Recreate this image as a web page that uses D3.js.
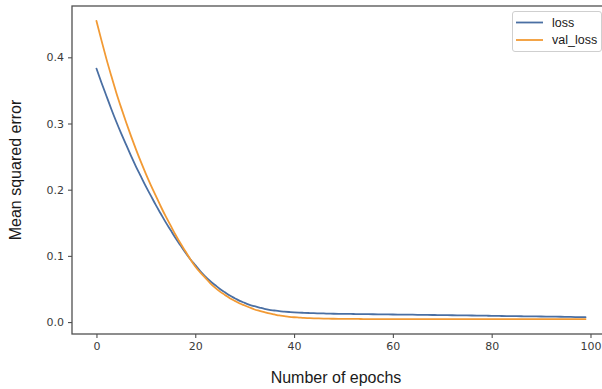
<!DOCTYPE html>
<html>
<head>
<meta charset="utf-8">
<script src="https://cdn.jsdelivr.net/npm/d3@7"></script>
<style>
  html, body { margin: 0; padding: 0; background: #ffffff; }
  svg { display: block; }
  text { font-family: "DejaVu Sans", sans-serif; }
</style>
</head>
<body>
<script>
// Training history: mean squared error per epoch
const epochs = d3.range(0, 100);

const loss = [
  0.383, 0.362, 0.342, 0.322, 0.303, 0.285, 0.268, 0.251, 0.235, 0.220,
  0.205, 0.191, 0.177, 0.164, 0.151, 0.139, 0.127, 0.116, 0.105, 0.095,
  0.086, 0.077, 0.069, 0.062, 0.056, 0.050, 0.045, 0.040, 0.036, 0.032,
  0.029, 0.026, 0.024, 0.022, 0.020, 0.0185, 0.0175, 0.0165, 0.0158, 0.0152,
  0.0147, 0.0143, 0.0140, 0.0137, 0.0134, 0.0132, 0.0130, 0.0128, 0.0126, 0.0125,
  0.0124, 0.0123, 0.0122, 0.0121, 0.0120, 0.0119, 0.0118, 0.0117, 0.0116, 0.0115,
  0.0114, 0.0113, 0.0112, 0.0112, 0.0111, 0.0110, 0.0109, 0.0108, 0.0107, 0.0106,
  0.0105, 0.0104, 0.0103, 0.0102, 0.0101, 0.0100, 0.0099, 0.0098, 0.0097, 0.0096,
  0.0095, 0.0093, 0.0092, 0.0091, 0.0090, 0.0089, 0.0088, 0.0087, 0.0086, 0.0085,
  0.0084, 0.0083, 0.0082, 0.0081, 0.0080, 0.0078, 0.0077, 0.0076, 0.0075, 0.0074
];

const valLoss = [
  0.455, 0.426, 0.398, 0.372, 0.347, 0.324, 0.302, 0.281, 0.261, 0.242,
  0.224, 0.207, 0.191, 0.175, 0.160, 0.146, 0.132, 0.119, 0.107, 0.095,
  0.084, 0.075, 0.067, 0.059, 0.052, 0.046, 0.041, 0.036, 0.032, 0.028,
  0.025, 0.022, 0.019, 0.017, 0.015, 0.013, 0.0115, 0.0100, 0.0090, 0.0080,
  0.0073, 0.0068, 0.0063, 0.0060, 0.0057, 0.0055, 0.0053, 0.0051, 0.0050, 0.0049,
  0.0048, 0.0048, 0.0047, 0.0047, 0.0046, 0.0046, 0.0046, 0.0045, 0.0045, 0.0045,
  0.0045, 0.0045, 0.0045, 0.0045, 0.0045, 0.0045, 0.0045, 0.0045, 0.0045, 0.0045,
  0.0045, 0.0045, 0.0045, 0.0045, 0.0045, 0.0045, 0.0045, 0.0045, 0.0045, 0.0045,
  0.0045, 0.0045, 0.0045, 0.0045, 0.0045, 0.0045, 0.0045, 0.0045, 0.0045, 0.0045,
  0.0045, 0.0045, 0.0045, 0.0045, 0.0045, 0.0045, 0.0045, 0.0045, 0.0045, 0.0045
];

const seriesNames = ["loss", "val_loss"];
const seriesColors = ["#4a6fa3", "#f29a34"];
const xTicks = [0, 20, 40, 60, 80, 100];
const yTicks = [0.0, 0.1, 0.2, 0.3, 0.4];
const xLabel = "Number of epochs";
const yLabel = "Mean squared error";

const W = 602, H = 389;
const plot = { left: 72, right: 610, top: 6, bottom: 334 };

const svg = d3.select("body").append("svg")
  .attr("width", W).attr("height", H)
  .style("overflow", "hidden");

// Axis limits with 5% padding around the data
const xMin = d3.min(epochs), xMax = d3.max(epochs);
const xPad = (xMax - xMin) * 0.05;
const allY = loss.concat(valLoss);
const yMin = d3.min(allY), yMax = d3.max(allY);
const yPad = (yMax - yMin) * 0.05;

const x = d3.scaleLinear().domain([xMin - xPad, xMax + xPad]).range([plot.left, plot.right]);
const y = d3.scaleLinear().domain([yMin - yPad, yMax + yPad]).range([plot.bottom, plot.top]);

// Series lines
const series = [loss, valLoss];
const line = d3.line()
  .x((d, i) => x(epochs[i]))
  .y(d => y(d))
  .curve(d3.curveMonotoneX);

series.forEach((vals, k) => {
  svg.append("path")
    .datum(vals)
    .attr("fill", "none")
    .attr("stroke", seriesColors[k])
    .attr("stroke-width", 1.8)
    .attr("stroke-linejoin", "round")
    .attr("stroke-linecap", "round")
    .attr("d", line);
});

// Frame
const spine = "#505050";
svg.append("rect")
  .attr("x", plot.left).attr("y", plot.top)
  .attr("width", plot.right - plot.left).attr("height", plot.bottom - plot.top)
  .attr("fill", "none").attr("stroke", spine).attr("stroke-width", 1.3);

// Axes
const xAxis = svg.append("g")
  .attr("transform", `translate(0,${plot.bottom})`)
  .call(d3.axisBottom(x).tickValues(xTicks).tickFormat(d3.format("d")).tickSize(4).tickPadding(4));
const yAxis = svg.append("g")
  .attr("transform", `translate(${plot.left},0)`)
  .call(d3.axisLeft(y).tickValues(yTicks).tickFormat(d3.format(".1f")).tickSize(4).tickPadding(4));

[xAxis, yAxis].forEach(g => {
  g.select(".domain").remove();
  g.selectAll(".tick line").attr("stroke", spine).attr("stroke-width", 1.1);
  g.selectAll(".tick text")
    .attr("fill", "#3a3a3a")
    .style("font-family", "'DejaVu Sans', sans-serif")
    .style("font-size", "11px");
});

// Axis titles
svg.append("text")
  .attr("x", 336).attr("y", 383)
  .attr("text-anchor", "middle")
  .attr("fill", "#1a1a1a")
  .style("font-family", "'Liberation Sans', Arial, sans-serif")
  .style("font-size", "16px")
  .text(xLabel);

svg.append("text")
  .attr("transform", `translate(21,${(plot.top + plot.bottom) / 2}) rotate(-90)`)
  .attr("text-anchor", "middle")
  .attr("fill", "#1a1a1a")
  .style("font-family", "'Liberation Sans', Arial, sans-serif")
  .style("font-size", "16px")
  .text(yLabel);

// Legend
const legend = svg.append("g");
legend.append("rect")
  .attr("x", 512.5).attr("y", 11.5)
  .attr("width", 89).attr("height", 40)
  .attr("rx", 2.5)
  .attr("fill", "#ffffff").attr("fill-opacity", 0.85)
  .attr("stroke", "#cfcfcf").attr("stroke-width", 1);

seriesNames.forEach((name, k) => {
  const ly = 22.5 + k * 17.5;
  legend.append("line")
    .attr("x1", 516).attr("x2", 543)
    .attr("y1", ly).attr("y2", ly)
    .attr("stroke", seriesColors[k]).attr("stroke-width", 1.8);
  legend.append("text")
    .attr("x", 552).attr("y", ly + 4)
    .attr("fill", "#1a1a1a")
    .style("font-family", "'Liberation Sans', Arial, sans-serif")
    .style("font-size", "12.5px")
    .text(name);
});
</script>
</body>
</html>
